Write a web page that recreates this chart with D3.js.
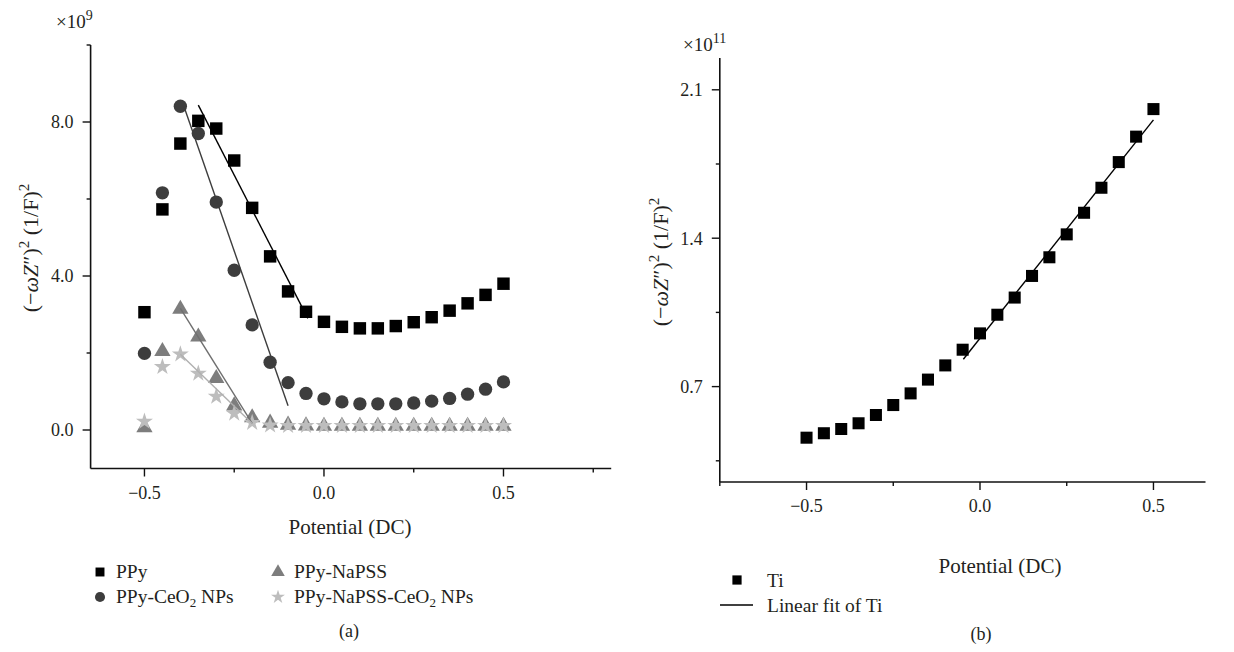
<!DOCTYPE html>
<html>
<head>
<meta charset="utf-8">
<script src="https://cdn.jsdelivr.net/npm/d3@7"></script>
<style>
  html, body { margin: 0; padding: 0; background: #fff; }
  svg text { font-family: "Liberation Serif", "Times New Roman", serif; fill: #231f20; }
</style>
</head>
<body>
<svg id="fig" width="1234" height="652"></svg>
<script>
// ---- data: panel (a) ----
const potentialA = [-0.5, -0.45, -0.4, -0.35, -0.3, -0.25, -0.2, -0.15, -0.1, -0.05, 0.0,
                    0.05, 0.1, 0.15, 0.2, 0.25, 0.3, 0.35, 0.4, 0.45, 0.5];
const ppy      = [3.06, 5.73, 7.44, 8.03, 7.83, 7.00, 5.77, 4.51, 3.60, 3.07, 2.81,
                  2.68, 2.64, 2.64, 2.70, 2.80, 2.93, 3.10, 3.29, 3.51, 3.80];
const ppyCeO2  = [1.99, 6.16, 8.41, 7.70, 5.92, 4.15, 2.73, 1.76, 1.23, 0.95, 0.81,
                  0.73, 0.68, 0.68, 0.68, 0.70, 0.75, 0.82, 0.93, 1.06, 1.25];
const ppyNaPSS = [0.10, 2.08, 3.18, 2.46, 1.38, 0.67, 0.36, 0.22, 0.17, 0.15, 0.14,
                  0.14, 0.14, 0.14, 0.14, 0.14, 0.14, 0.14, 0.14, 0.14, 0.14];
const ppyNaPSSCeO2 = [0.22, 1.64, 1.97, 1.47, 0.87, 0.43, 0.19, 0.12, 0.11, 0.11, 0.11,
                      0.11, 0.11, 0.11, 0.11, 0.11, 0.11, 0.11, 0.11, 0.11, 0.11];
// linear fits over the steep Mott–Schottky region: [x0, y0, x1, y1]
const fitsA = [
  { name: "PPy",             seg: [-0.35, 8.44, -0.045, 2.90] },
  { name: "PPy-CeO2",        seg: [-0.39, 8.40, -0.10, 0.63] },
  { name: "PPy-NaPSS",       seg: [-0.40, 3.16, -0.20, 0.17] },
  { name: "PPy-NaPSS-CeO2",  seg: [-0.40, 1.97, -0.20, 0.17] }
];
const xTicksA = [-0.5, 0.0, 0.5];
const xMinorA = [-0.25, 0.25, 0.75];
const yTicksA = [0, 4, 8];
const yMinorA = [2, 6, 10];

// ---- data: panel (b) ----
const potentialB = [-0.5, -0.45, -0.4, -0.35, -0.3, -0.25, -0.2, -0.15, -0.1, -0.05, 0.0,
                    0.05, 0.1, 0.15, 0.2, 0.25, 0.3, 0.35, 0.4, 0.45, 0.5];
const ti = [0.459, 0.480, 0.500, 0.527, 0.566, 0.613, 0.668, 0.733, 0.800, 0.874, 0.951,
            1.039, 1.120, 1.222, 1.310, 1.418, 1.520, 1.638, 1.759, 1.879, 2.009];
const fitB = [-0.048, 0.829, 0.5, 1.958];
const xTicksB = [-0.5, 0.0, 0.5];
const xMinorB = [-0.75, -0.25, 0.25];
const yTicksB = [0.7, 1.4, 2.1];
const yMinorB = [0.35, 1.05, 1.75];

const svg = d3.select("#fig");
const fmt = d3.format(".1f");
const minus = s => s.replace("-", "\u2212");

function axes(g, x, y, xt, xm, yt, ym) {
  const [x0, x1] = x.range();
  const [y0, y1] = y.range();
  g.append("line").attr("x1", x0).attr("x2", x0).attr("y1", y0).attr("y2", y1)
    .attr("stroke", "#111").attr("stroke-width", 1.6);
  g.append("line").attr("x1", x0).attr("x2", x1).attr("y1", y0).attr("y2", y0)
    .attr("stroke", "#111").attr("stroke-width", 1.6);
  yt.forEach(v => {
    g.append("line").attr("x1", x0 - 8).attr("x2", x0).attr("y1", y(v)).attr("y2", y(v))
      .attr("stroke", "#111").attr("stroke-width", 1.4);
    g.append("text").attr("x", x0 - 17).attr("y", y(v)).attr("dy", "0.35em")
      .attr("text-anchor", "end").attr("font-size", 18).text(minus(fmt(v)));
  });
  ym.forEach(v => {
    g.append("line").attr("x1", x0 - 4).attr("x2", x0).attr("y1", y(v)).attr("y2", y(v))
      .attr("stroke", "#111").attr("stroke-width", 1.4);
  });
  xt.forEach(v => {
    g.append("line").attr("x1", x(v)).attr("x2", x(v)).attr("y1", y0).attr("y2", y0 + 8)
      .attr("stroke", "#111").attr("stroke-width", 1.4);
    g.append("text").attr("x", x(v)).attr("y", y0 + 30)
      .attr("text-anchor", "middle").attr("font-size", 18).text(minus(fmt(v)));
  });
  xm.forEach(v => {
    g.append("line").attr("x1", x(v)).attr("x2", x(v)).attr("y1", y0).attr("y2", y0 + 4)
      .attr("stroke", "#111").attr("stroke-width", 1.4);
  });
}

function yTitle(g, bx, cy) {
  const t = g.append("text").attr("transform", `translate(${bx},${cy}) rotate(-90)`)
    .attr("text-anchor", "middle").attr("font-size", 22);
  t.append("tspan").text("(\u2212");
  t.append("tspan").attr("font-style", "italic").text("\u03C9Z");
  t.append("tspan").text("\u2033)");
  t.append("tspan").attr("font-size", 15).attr("dy", -9).text("2");
  t.append("tspan").attr("dy", 9).text(" (1/F)");
  t.append("tspan").attr("font-size", 15).attr("dy", -9).text("2");
}

function multiplier(g, x, y, exp) {
  const t = g.append("text").attr("x", x).attr("y", y).attr("font-size", 19);
  t.append("tspan").text("\u00D710");
  t.append("tspan").attr("font-size", 14).attr("dy", -8).text(exp);
}

// ================= panel (a) =================
const gA = svg.append("g");
const xA = d3.scaleLinear().domain([-0.65, 0.8]).range([90.6, 611.2]);
const yA = d3.scaleLinear().domain([-1, 10]).range([468.5, 45]);
axes(gA, xA, yA, xTicksA, xMinorA, yTicksA, yMinorA);
multiplier(gA, 56, 28, "9");
yTitle(gA, 38, 248);
gA.append("text").attr("x", 350).attr("y", 534).attr("text-anchor", "middle")
  .attr("font-size", 21).text("Potential (DC)");

const seriesA = [
  { vals: ppy,          sym: d3.symbolSquare,   size: 155, color: "#000000", line: "#000000" },
  { vals: ppyCeO2,      sym: d3.symbolCircle,   size: 140, color: "#3d3d3d", line: "#3d3d3d" },
  { vals: ppyNaPSS,     sym: d3.symbolTriangle, size: 115, color: "#7d7d7d", line: "#6f6f6f" },
  { vals: ppyNaPSSCeO2, sym: d3.symbolStar,     size: 90,  color: "#bdbdbd", line: "#b0b0b0" }
];

seriesA.forEach(s => {
  gA.append("g").selectAll("path").data(potentialA.map((p, i) => [p, s.vals[i]]))
    .join("path")
    .attr("d", d3.symbol().type(s.sym).size(s.size))
    .attr("transform", d => {
      const dy = s.sym === d3.symbolTriangle ? 1.5 : 0;
      return `translate(${xA(d[0])},${yA(d[1]) + dy})`;
    })
    .attr("fill", s.color);
});
const lineGen = d3.line().x(d => xA(d[0])).y(d => yA(d[1]));
fitsA.forEach((f, i) => {
  gA.append("path")
    .attr("d", lineGen([[f.seg[0], f.seg[1]], [f.seg[2], f.seg[3]]]))
    .attr("stroke", seriesA[i].line).attr("stroke-width", 1.4).attr("fill", "none");
});

// legend (a)
const legA = [
  { label: ["PPy"], sym: d3.symbolSquare, color: "#000", x: 100, y: 572 },
  { label: ["PPy-CeO", "2", " NPs"], sym: d3.symbolCircle, color: "#3d3d3d", x: 100, y: 597 },
  { label: ["PPy-NaPSS"], sym: d3.symbolTriangle, color: "#7d7d7d", x: 278, y: 572 },
  { label: ["PPy-NaPSS-CeO", "2", " NPs"], sym: d3.symbolStar, color: "#bdbdbd", x: 278, y: 597 }
];
legA.forEach(l => {
  gA.append("path").attr("d", d3.symbol().type(l.sym).size(l.sym === d3.symbolStar ? 60 : 80))
    .attr("transform", `translate(${l.x},${l.y})`).attr("fill", l.color);
  const t = gA.append("text").attr("x", l.x + 16).attr("y", l.y + 6).attr("font-size", 19.5);
  t.append("tspan").text(l.label[0]);
  if (l.label.length > 1) {
    t.append("tspan").attr("font-size", 13).attr("dy", 4).text(l.label[1]);
    t.append("tspan").attr("dy", -4).text(l.label[2]);
  }
});
gA.append("text").attr("x", 349).attr("y", 637).attr("text-anchor", "middle")
  .attr("font-size", 18).text("(a)");

// ================= panel (b) =================
const gB = svg.append("g");
const xB = d3.scaleLinear().domain([-0.75, 0.65]).range([719.8, 1205.5]);
const yB = d3.scaleLinear().domain([0.25, 2.25]).range([482, 58]);
axes(gB, xB, yB, xTicksB, xMinorB, yTicksB, yMinorB);
multiplier(gB, 683, 51, "11");
yTitle(gB, 668, 262);
gB.append("text").attr("x", 1000).attr("y", 573).attr("text-anchor", "middle")
  .attr("font-size", 21).text("Potential (DC)");

gB.append("g").selectAll("path").data(potentialB.map((p, i) => [p, ti[i]]))
  .join("path")
  .attr("d", d3.symbol().type(d3.symbolSquare).size(145))
  .attr("transform", d => `translate(${xB(d[0])},${yB(d[1])})`)
  .attr("fill", "#000");
gB.append("path")
  .attr("d", d3.line().x(d => xB(d[0])).y(d => yB(d[1]))([[fitB[0], fitB[1]], [fitB[2], fitB[3]]]))
  .attr("stroke", "#000").attr("stroke-width", 1.4).attr("fill", "none");

// legend (b)
gB.append("path").attr("d", d3.symbol().type(d3.symbolSquare).size(85))
  .attr("transform", "translate(737,580)").attr("fill", "#000");
gB.append("text").attr("x", 767).attr("y", 587).attr("font-size", 19.5).text("Ti");
gB.append("line").attr("x1", 720).attr("x2", 753).attr("y1", 605).attr("y2", 605)
  .attr("stroke", "#000").attr("stroke-width", 1.3);
gB.append("text").attr("x", 767).attr("y", 612).attr("font-size", 19.5).text("Linear fit of Ti");
gB.append("text").attr("x", 981).attr("y", 640).attr("text-anchor", "middle")
  .attr("font-size", 18).text("(b)");
</script>
</body>
</html>
